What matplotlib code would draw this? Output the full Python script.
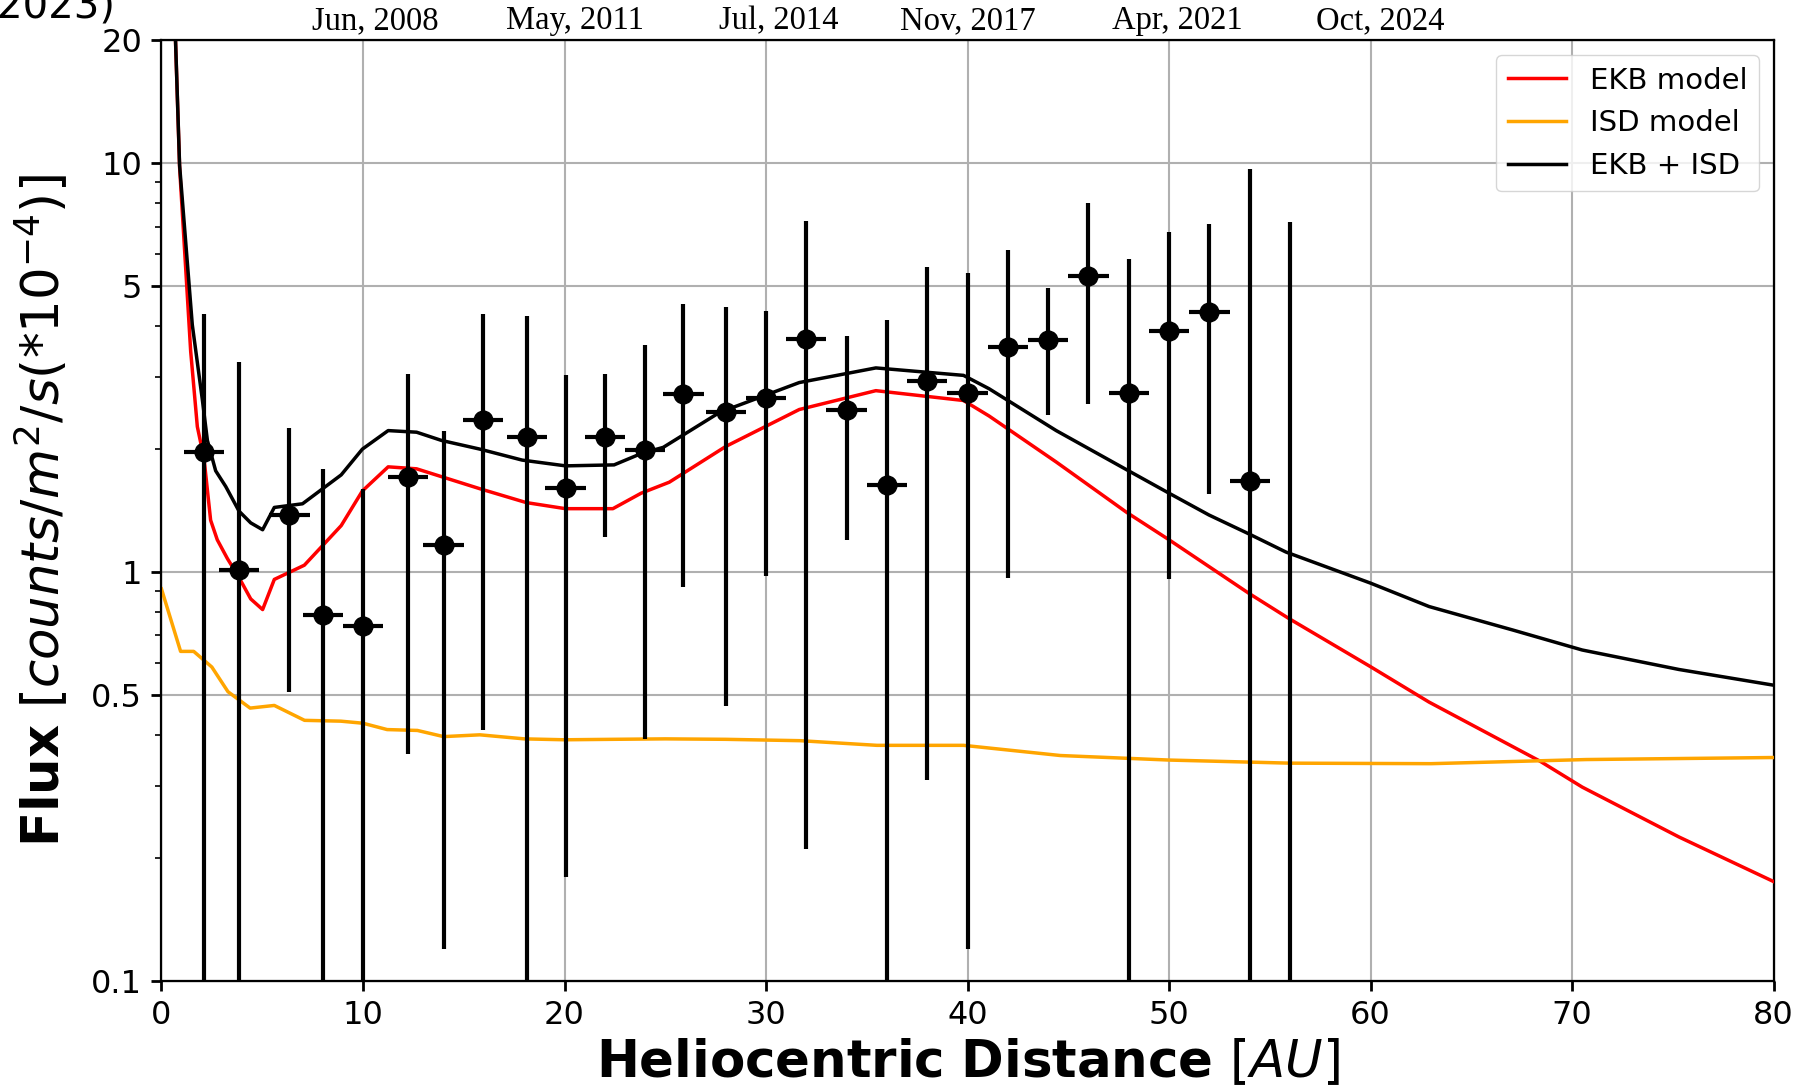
import numpy as np
import matplotlib
matplotlib.use("Agg")
import matplotlib.pyplot as plt
from matplotlib.ticker import NullFormatter, FixedLocator, FixedFormatter

# ---------------- data ----------------
ekb_x = [0.5, 0.9, 1.45, 1.78, 2.11, 2.44, 2.77, 3.27, 3.85, 4.43, 5.02, 5.6, 7.09, 8.92,
         9.97, 11.25, 12.66, 15.8, 18.1, 20.05, 22.4, 23.8, 25.2, 28.0, 31.65, 35.45, 39.8,
         41.07, 44.4, 47.9, 50.0, 53.97, 55.95, 60.0, 62.9, 68.4, 70.5, 75.3, 80.0]
ekb_y = [40, 9.8, 3.47, 2.27, 1.90, 1.34, 1.20, 1.08, 0.97, 0.86, 0.81, 0.96, 1.04, 1.30,
         1.58, 1.81, 1.79, 1.60, 1.48, 1.43, 1.43, 1.56, 1.66, 2.03, 2.50, 2.78, 2.63,
         2.41, 1.86, 1.40, 1.20, 0.887, 0.77, 0.587, 0.481, 0.345, 0.298, 0.225, 0.175]

isd_x = [0, 0.95, 1.6, 2.5, 3.3, 4.4, 5.6, 7.1, 8.9, 10, 11.2, 12.7, 14, 15.8, 18, 20,
         22.4, 25, 28, 31.7, 35.5, 39.8, 44.6, 50, 56, 63, 70.7, 80]
isd_y = [0.91, 0.64, 0.64, 0.586, 0.51, 0.465, 0.472, 0.434, 0.432, 0.427, 0.412, 0.41,
         0.396, 0.40, 0.391, 0.389, 0.39, 0.391, 0.39, 0.387, 0.377, 0.377, 0.356, 0.347,
         0.341, 0.340, 0.348, 0.352]

tot_x = [0.5, 0.9, 1.53, 2.03, 2.28, 2.69, 3.19, 3.85, 4.43, 5.02, 5.6, 7.0, 8.92, 9.97,
         11.25, 12.66, 13.9, 15.8, 17.9, 20.05, 22.46, 23.8, 24.9, 27.7, 31.65, 35.45, 39.8,
         41.07, 44.4, 47.9, 50.0, 51.98, 53.97, 55.8, 60.0, 62.9, 67.05, 70.5, 75.3, 80.0]
tot_y = [40, 9.9, 4.03, 2.64, 2.10, 1.77, 1.62, 1.41, 1.32, 1.27, 1.44, 1.47, 1.73, 2.00,
         2.22, 2.20, 2.10, 2.00, 1.88, 1.82, 1.83, 1.95, 2.02, 2.46, 2.91, 3.16, 3.03,
         2.81, 2.22, 1.78, 1.56, 1.38, 1.24, 1.12, 0.94, 0.824, 0.722, 0.645, 0.578, 0.529]

pt_x = [2.1, 3.85, 6.35, 8.0, 10.0, 12.25, 14.0, 15.95, 18.15, 20.05, 22.0, 24.0, 25.9, 28.0,
        30.0, 32.0, 34.0, 36.0, 38.0, 40.0, 42.0, 44.0, 46.0, 48.0, 50.0, 52.0, 54.0, 56.0]
pt_y = [1.97, 1.01, 1.38, 0.785, 0.74, 1.71, 1.165, 2.35, 2.14, 1.61, 2.14, 1.99, 2.73, 2.46,
        2.67, 3.72, 2.49, 1.63, 2.94, 2.75, 3.56, 3.70, 5.30, 2.75, 3.88, 4.33, 1.67, 0.0]
pt_yerr = [2.30, 2.25, 0.87, 1.0, 0.86, 1.35, 1.045, 1.94, 2.10, 1.43, 0.92, 1.60, 1.81, 1.99,
           1.69, 3.51, 1.29, 2.52, 2.63, 2.63, 2.59, 1.27, 2.72, 3.08, 2.92, 2.78, 8.0, 7.17]
pt_xerr = 1.0

y_ticks = [0.1, 0.5, 1, 5, 10, 20]
y_ticklabels = ["0.1", "0.5", "1", "5", "10", "20"]
x_ticks = [0, 10, 20, 30, 40, 50, 60, 70, 80]
top_pos = [10.6, 20.5, 30.65, 40.0, 50.4, 60.5]
top_labels = ["Jun, 2008", "May, 2011", "Jul, 2014", "Nov, 2017", "Apr, 2021", "Oct, 2024"]

# ---------------- figure ----------------
fig = plt.figure(figsize=(18.08, 10.91), dpi=100)
ax = fig.add_axes([0.0893, 0.1009, 0.981 - 0.0893, 0.963 - 0.1009])

ax.set_yscale("log")
ax.grid(True, which="major", color="#b0b0b0", linewidth=1.5)
ax.set_axisbelow(True)

ax.plot(ekb_x, ekb_y, color="red", lw=2.5, label="EKB model", zorder=3)
ax.plot(isd_x, isd_y, color="orange", lw=2.5, label="ISD model", zorder=3)
ax.plot(tot_x, tot_y, color="black", lw=2.5, label="EKB + ISD", zorder=3)

ax.errorbar(pt_x, pt_y, yerr=pt_yerr, xerr=pt_xerr, fmt="o", color="black",
            ms=13.5, elinewidth=3, capsize=0, zorder=4)

ax.set_xlim(0, 80)
ax.set_ylim(0.1, 20)
ax.set_xticks(x_ticks)
ax.yaxis.set_major_locator(FixedLocator(y_ticks))
ax.yaxis.set_major_formatter(FixedFormatter(y_ticklabels))
ax.yaxis.set_minor_formatter(NullFormatter())

ax.tick_params(axis="both", which="major", labelsize=23, length=7, width=2, pad=7)
ax.tick_params(axis="y", which="minor", length=4, width=1.2)
for s in ax.spines.values():
    s.set_linewidth(1.6)

ax.set_xlabel(r"$\mathbf{Heliocentric\ Distance}\ [AU]$", fontsize=37)
ax.set_ylabel(r"$\mathbf{Flux}\ [counts/m^2/s(*10^{-4})]$", fontsize=37)
ax.xaxis.set_label_coords(0.5, -0.060)
ax.yaxis.set_label_coords(-0.056, 0.5)

leg = ax.legend(loc="upper right", fontsize=21, handlelength=2.0)

top = ax.twiny()
top.set_xlim(ax.get_xlim())
top.set_xticks(top_pos)
top.set_xticklabels(top_labels, fontfamily="Liberation Serif", fontsize=23.5)
top.tick_params(axis="x", length=0, pad=3)

fig.text(0.0636, 0.984, "2023)", ha="right", va="baseline", fontsize=29)

fig.savefig("out.png", dpi=100)
